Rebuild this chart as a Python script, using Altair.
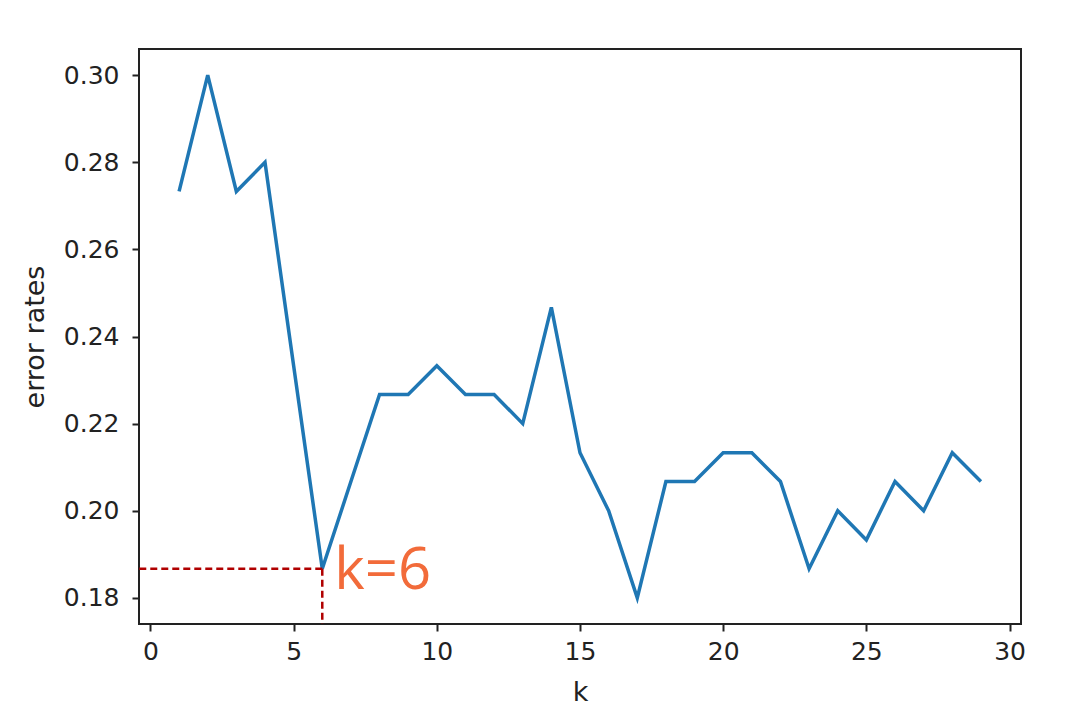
import altair as alt
import pandas as pd

k_values = list(range(1, 30))
error_rates = [0.2733, 0.3000, 0.2733, 0.2800, 0.2333, 0.1867, 0.2067, 0.2267, 0.2267, 0.2333,
               0.2267, 0.2267, 0.2200, 0.2467, 0.2133, 0.2000, 0.1800, 0.2067, 0.2067, 0.2133,
               0.2133, 0.2067, 0.1867, 0.2000, 0.1933, 0.2067, 0.2000, 0.2133, 0.2067]
best_k = [6]
best_rate = [0.1867]
best_label = ["k=6"]
x_ticks = [0, 5, 10, 15, 20, 25, 30]
y_ticks = [0.18, 0.20, 0.22, 0.24, 0.26, 0.28, 0.30]

W, H = 882, 575

df = pd.DataFrame({"k": k_values, "err": error_rates})
best = pd.DataFrame({"k": best_k, "err": best_rate, "label": best_label})

xscale = alt.Scale(domain=[-0.4, 30.4], nice=False, zero=False)
yscale = alt.Scale(domain=[0.174, 0.306], nice=False, zero=False)

font = "DejaVu Sans"

xaxis = alt.Axis(values=x_ticks, format="d", grid=False, domain=False, tickSize=7,
                 tickWidth=2, tickColor="#222", labelFont=font, labelFontSize=25,
                 labelColor="#222", labelPadding=8, title="k", titleFont=font,
                 titleFontSize=27, titleFontWeight="normal", titleColor="#222",
                 titleBaseline="alphabetic", titleY=76, titleX=W / 2)
yaxis = alt.Axis(values=y_ticks, format=".2f", grid=False, domain=False, tickSize=7,
                 tickWidth=2, tickColor="#222", labelFont=font, labelFontSize=25,
                 labelColor="#222", labelPadding=13, title="error rates", titleFont=font,
                 titleFontSize=27, titleFontWeight="normal", titleColor="#222",
                 titleBaseline="alphabetic", titleX=-96, titleY=H / 2, titleAngle=-90,
                 titleAlign="center")

line = alt.Chart(df).mark_line(color="#1f77b4", strokeWidth=3.5, clip=True).encode(
    x=alt.X("k:Q", scale=xscale, axis=xaxis),
    y=alt.Y("err:Q", scale=yscale, axis=yaxis),
)

hrule = alt.Chart(best).mark_rule(color="#b00000", strokeWidth=2.5, strokeDash=[7, 4]).encode(
    x=alt.X("k:Q", scale=xscale),
    x2=alt.value(0),
    y=alt.Y("err:Q", scale=yscale),
)

vrule = alt.Chart(best).mark_rule(color="#b00000", strokeWidth=2.5, strokeDash=[7, 4]).encode(
    x=alt.X("k:Q", scale=xscale),
    y=alt.Y("err:Q", scale=yscale),
    y2=alt.value(H),
)

label = alt.Chart(best).mark_text(color="#f26b3a", font="Open Sans", fontSize=58,
                                  align="left", baseline="alphabetic", dx=12, dy=20).encode(
    x=alt.X("k:Q", scale=xscale),
    y=alt.Y("err:Q", scale=yscale),
    text="label:N",
)

chart = alt.layer(line, hrule, vrule, label).properties(
    width=W, height=H,
    autosize=alt.AutoSizeParams(type="none"),
    padding={"left": 131, "top": 41, "right": 40, "bottom": 95},
    background="white",
).configure_view(stroke="#222", strokeWidth=2)

chart.save("out.html", embed_options={"renderer": "svg", "actions": False})
